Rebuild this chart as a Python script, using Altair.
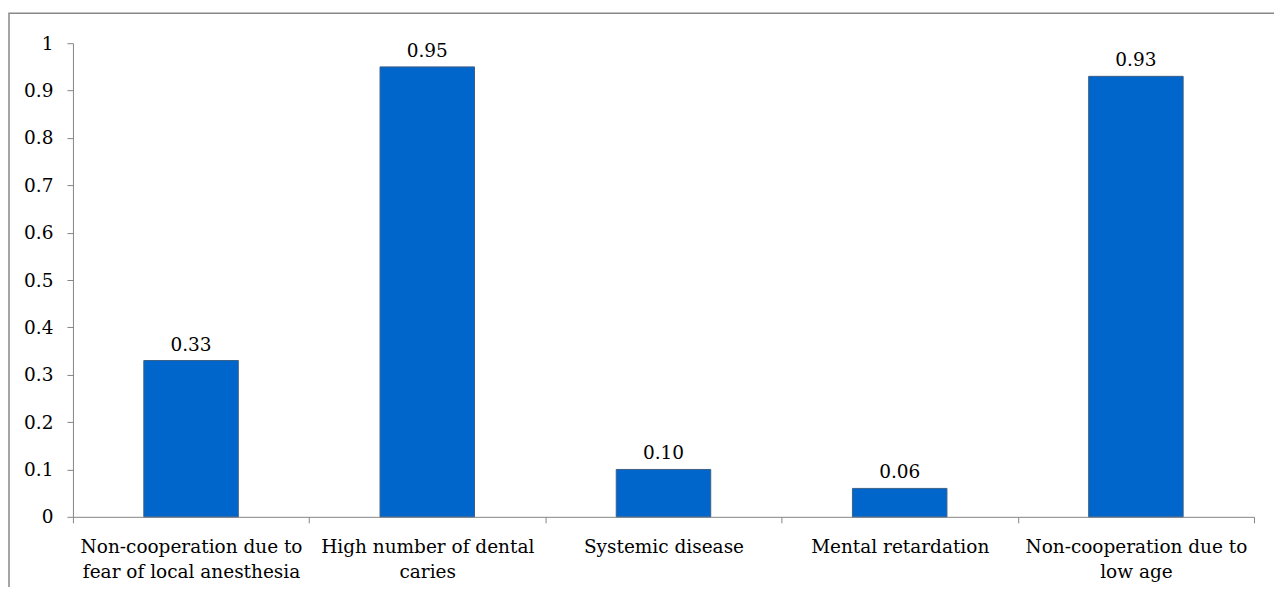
import altair as alt
import pandas as pd

categories = [
    "Non-cooperation due to\nfear of local anesthesia",
    "High number of dental\ncaries",
    "Systemic disease",
    "Mental retardation",
    "Non-cooperation due to\nlow age",
]
values = [0.33, 0.95, 0.10, 0.06, 0.93]

df = pd.DataFrame({"cat": categories, "val": values})
FONT = "DejaVu Serif"
FS = 18.5

x = alt.X("cat:N", sort=categories, title=None,
          scale=alt.Scale(paddingInner=0, paddingOuter=0),
          axis=alt.Axis(labelAngle=0, labelExpr="split(datum.label, '\\n')",
                        tickBand="extent", labelFontSize=FS, labelFont=FONT,
                        labelColor="black", labelLineHeight=25, labelPadding=15,
                        labelLimit=0,
                        tickSize=6, domainColor="#868686", tickColor="#868686",
                        labelBaseline="top"))
y = alt.Y("val:Q", title=None,
          scale=alt.Scale(domain=[0, 1]),
          axis=alt.Axis(values=[i / 10 for i in range(11)], labelExpr="format(datum.value, '.1~f')",
                        grid=False, labelFontSize=FS, labelFont=FONT, labelColor="black",
                        tickSize=6, labelPadding=14, domainColor="#868686", tickColor="#868686"))

base = alt.Chart(df)
bars = base.mark_bar(color="#0066CC", stroke="#3d5f86", strokeWidth=1,
                     width=alt.RelativeBandSize(0.4)).encode(x=x, y=y)
labels = base.mark_text(baseline="alphabetic", dy=-10, font=FONT, fontSize=FS, color="black").encode(
    x=alt.X("cat:N", sort=categories), y="val:Q", text=alt.Text("val:Q", format=".2f"))
border = alt.Chart(pd.DataFrame({"a": [0]})).mark_rect(fill=None, stroke="#888888", strokeWidth=1.5, clip=False).encode(
    x=alt.value(-64), x2=alt.value(1400), y=alt.value(-30), y2=alt.value(700))

chart = alt.layer(border, bars, labels).properties(
    width=1182, height=474,
    autosize=alt.AutoSizeParams(type="none"),
    padding={"left": 65, "top": 35, "right": 20, "bottom": 70},
).configure_view(stroke=None)

chart.save("out.html", embed_options={"renderer": "svg", "actions": False})
